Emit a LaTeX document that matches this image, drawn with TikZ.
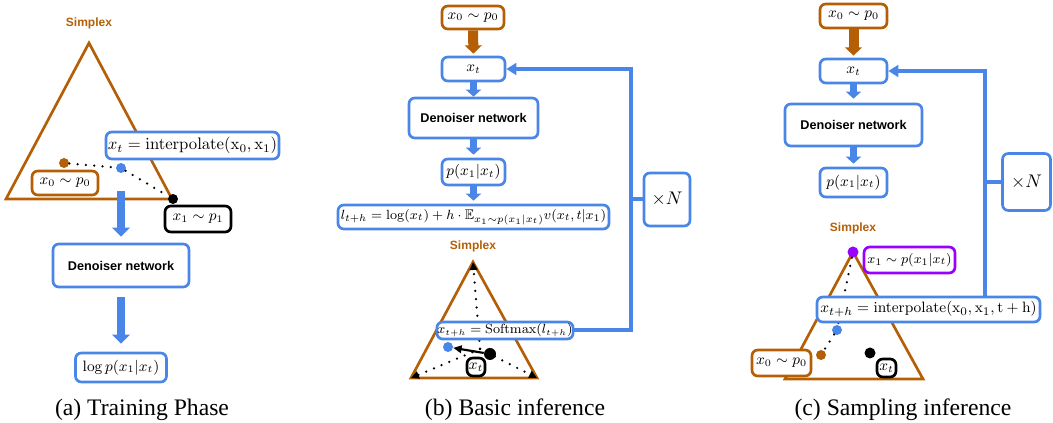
\documentclass[tikz,border=0pt]{standalone}
\usepackage[no-math]{fontspec}
\usepackage{amsmath,amssymb}
\usetikzlibrary{arrows.meta}
\newfontfamily\hvfont{Liberation Sans}
\newfontfamily\capfont{Liberation Serif}
\definecolor{gblue}{RGB}{74,134,232}
\definecolor{gorange}{RGB}{180,95,6}
\definecolor{gpurple}{RGB}{153,0,255}
\newcommand\fs[1]{\fontsize{#1}{#1}\selectfont}
\begin{document}
\begin{tikzpicture}[x=0.6pt,y=-0.6pt,
  sz/.style 2 args={minimum width={#1*0.6pt}, minimum height={#2*0.6pt}},
  bx/.style={draw=gblue, line width=1.6pt, rounded corners=3.5pt, fill=white, inner sep=1pt, font=\fs{9}},
  obx/.style={bx, draw=gorange},
  kbx/.style={bx, draw=black},
  pbx/.style={bx, draw=gpurple},
  den/.style={bx, font=\hvfont\bfseries\fontsize{7.6}{9}\selectfont},
  simp/.style={font=\hvfont\bfseries\fontsize{7.2}{9}\selectfont, text=gorange, inner sep=0pt},
  captxt/.style={font=\capfont\fontsize{14.2}{17}\selectfont, inner sep=0pt},
  dot/.style={circle, fill=#1, inner sep=0pt, minimum size=6pt},
  tri/.style={draw=gorange, line width=1.6pt, line join=miter},
  mydots/.style={line width=1.5pt, line cap=round, dash pattern=on 0pt off 5pt},
  barrow/.style={draw=gblue, line width=4.8pt, -{Triangle[length=5.4pt,width=10.5pt]}},
  sarrow/.style={draw=gblue, line width=4.2pt, -{Triangle[length=4.2pt,width=9pt]}},
  oarrow/.style={draw=gorange, line width=6pt, -{Triangle[length=5pt,width=10pt]}},
  fb/.style={draw=gblue, line width=2.4pt, -{Triangle[length=6pt,width=7pt]}},
  fbline/.style={draw=gblue, line width=2.4pt},
  vtip/.style={mydots, -{Triangle[length=4.8pt,width=4.5pt]}}
]
\useasboundingbox (0,0) rectangle (1053,423);

%%%%%%%%%%%%%%%% (a) Training phase
\node[simp] (simpa) at (89,23) {Simplex};
\coordinate (a1) at (89,43);
\coordinate (a2) at (6,199);
\coordinate (a3) at (172,199);
\draw[tri] (a1) -- (a2) -- (a3) -- cycle;
\node[dot=gorange] (d0a) at (64,163) {};
\node[dot=gblue] (dta) at (121,168) {};
\node[dot=black] (d1a) at (173,199) {};
\draw[mydots] (d0a) -- (dta) -- (d1a);
\node[obx, sz={66}{24}] (x0a) at (65,183) {$x_0\sim p_0$};
\node[bx, sz={173}{27}, font=\fs{9.6}] (xta) at (192.5,145.5) {$x_t=\mathrm{interpolate}(\mathrm{x}_0,\mathrm{x}_1)$};
\node[kbx, sz={66}{26}] (x1a) at (198,219) {$x_1\sim p_1$};
\node[den, sz={136}{43}] (dena) at (121,265.5) {Denoiser network};
\node[bx, sz={91}{29}] (loga) at (121,367.5) {$\log p(x_1|x_t)$};
\draw[barrow, shorten <=10.5pt, shorten >=3.6pt] (dta) -- (dena);
\draw[barrow, shorten <=5.4pt, shorten >=4.8pt] (dena) -- (loga);
\node[captxt] (capa) at (142,410) {(a) Training Phase};

%%%%%%%%%%%%%%%% (b) Basic inference
\node[obx, sz={62}{23}] (x0b) at (473,17.5) {$x_0\sim p_0$};
\node[bx, sz={63}{24}] (xtb) at (473.5,69) {$x_t$};
\node[den, sz={129}{40}] (denb) at (473.5,118) {Denoiser network};
\node[bx, sz={63}{26}] (pb) at (473.5,172) {$p(x_1|x_t)$};
\node[bx, sz={271}{24}, font=\fs{8.4}] (lb) at (473.5,217) {$l_{t+h}=\log(x_t)+h\cdot\mathbb{E}_{x_1\sim p(x_1|x_t)}v(x_t,t|x_1)$};
\node[bx, sz={46}{53}, font=\fs{11}] (Nb) at (667,199.5) {$\times N$};
\draw[oarrow, shorten >=1.2pt] (x0b) -- (xtb);
\draw[sarrow] (xtb) -- (denb);
\draw[sarrow, shorten >=1.8pt] (denb) -- (pb);
\draw[sarrow, shorten >=1.8pt] (pb) -- (lb);

\node[simp] (simpb) at (473,246) {Simplex};
\coordinate (b1) at (473,262);
\coordinate (b2) at (411,378);
\coordinate (b3) at (537,378);
\draw[tri] (b1) -- (b2) -- (b3) -- cycle;
\coordinate (cenb) at (480,349);
\draw[vtip] (cenb) -- (b1);
\draw[vtip] (cenb) -- (b2);
\draw[vtip] (cenb) -- (b3);
\node[dot=gblue] (dbb) at (448,347) {};
\node[dot=black, minimum size=7.2pt] (dkb) at (490,354) {};
\draw[line width=1.3pt, -{Triangle[length=5pt,width=4.5pt]}] (dkb) -- (dbb);
\node[kbx, sz={18}{18}, inner sep=0.5pt] (xtkb) at (476,367) {$x_t$};
\node[bx, sz={124}{17}, inner sep=0.3pt, font=\fs{7.8}] (softb) at (505,330.5) {$x_{t+h}=\mathrm{Softmax}(l_{t+h})$};
\coordinate (cb) at (631,0);
\draw[fb] (softb.east) -- (softb.east -| cb) |- (xtb.east);
\draw[fbline] (Nb.west) -- (Nb.west -| cb);
\node[captxt] (capb) at (515,410) {(b) Basic inference};

%%%%%%%%%%%%%%%% (c) Sampling inference
\node[obx, sz={67}{24}] (x0c) at (853.5,16) {$x_0\sim p_0$};
\node[bx, sz={67}{24}] (xtc) at (853.5,71) {$x_t$};
\node[den, sz={137}{42}] (denc) at (853.5,125) {Denoiser network};
\node[bx, sz={67}{29}] (pc) at (853.5,182.5) {$p(x_1|x_t)$};
\node[bx, sz={48}{57}, font=\fs{11}] (Nc) at (1026.5,182) {$\times N$};
\draw[oarrow, shorten >=1.2pt] (x0c) -- (xtc);
\draw[sarrow, shorten >=2.4pt] (xtc) -- (denc);
\draw[sarrow, shorten >=1.8pt] (denc) -- (pc);

\node[simp] (simpc) at (853,228) {Simplex};
\coordinate (c1) at (853,252);
\coordinate (c2) at (785,379);
\coordinate (c3) at (923,379);
\draw[tri] (c1) -- (c2) -- (c3) -- cycle;
\node[dot=gpurple, minimum size=6.6pt] (dpc) at (853,252) {};
\node[dot=gblue] (dbc) at (837,330) {};
\node[dot=gorange] (doc) at (821,355) {};
\node[dot=black, minimum size=6.6pt] (dkc) at (870,353) {};
\draw[mydots] (dpc) -- (dbc) -- (doc);
\node[pbx, sz={91}{26}, font=\fs{8.5}] (x1c) at (909.5,260) {$x_1\sim p(x_1|x_t)$};
\node[bx, sz={223}{25}, font=\fs{9.4}] (interpc) at (928.5,309.5) {$x_{t+h}=\mathrm{interpolate}(\mathrm{x}_0,\mathrm{x}_1,\mathrm{t}+\mathrm{h})$};
\node[kbx, sz={19}{18}, inner sep=0.5pt] (xtkc) at (886.5,368) {$x_t$};
\node[obx, sz={59}{26}] (x0c2) at (781.5,363) {$x_0\sim p_0$};
\coordinate (cc) at (985,0);
\draw[fb] (interpc.north -| cc) |- (xtc.east);
\draw[fbline] (Nc.west) -- (Nc.west -| cc);
\node[captxt] (capc) at (903,410) {(c) Sampling inference};
\end{tikzpicture}
\end{document}
